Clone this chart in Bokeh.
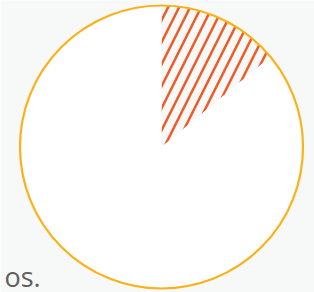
import math
from bokeh.plotting import figure
from bokeh.models import ColumnDataSource
from bokeh.core.properties import value
from bokeh.embed import file_html
from bokeh.resources import INLINE

# Data
slice_labels = ["Destacado", "Resto"]
slice_values = [14, 86]
caption = ["os."]

BG = "#f7f8f8"
W, H = 314, 292

p = figure(width=W, height=H, output_backend="svg", toolbar_location=None,
           x_range=(0, W), y_range=(0, H), min_border=0,
           background_fill_color=BG, border_fill_color=BG, outline_line_color=None)
p.axis.visible = False
p.grid.visible = False

cx, cy, r = 161, 145.5, 141.5

total = sum(slice_values)
starts, ends = [], []
acc = 0.0
for v in slice_values:
    frac = v / total
    end = math.pi / 2 - acc * 2 * math.pi
    start = end - frac * 2 * math.pi
    starts.append(start)
    ends.append(end)
    acc += frac

fills = [BG, "white"]
hatches = ["/", " "]
src = ColumnDataSource(dict(label=slice_labels, start=starts, end=ends,
                            fill=fills, hatch=hatches,
                            x=[cx] * len(slice_labels), y=[cy] * len(slice_labels)))

p.wedge(x="x", y="y", radius=r, start_angle="start", end_angle="end",
        fill_color="fill", line_color=None, hatch_pattern="hatch",
        hatch_color="#f15a24", hatch_weight=2.5, hatch_scale=22, source=src)

p.circle(x=[cx], y=[cy], radius=r, fill_color=None, line_color="#fbb117", line_width=2.2)

p.text(x=[4], y=[16], text=caption, text_font=value("Open Sans"), text_font_size="27px",
       text_color="#5e5e5e", text_baseline="alphabetic", text_align="left")

open("out.html", "w").write(file_html(p, INLINE))
